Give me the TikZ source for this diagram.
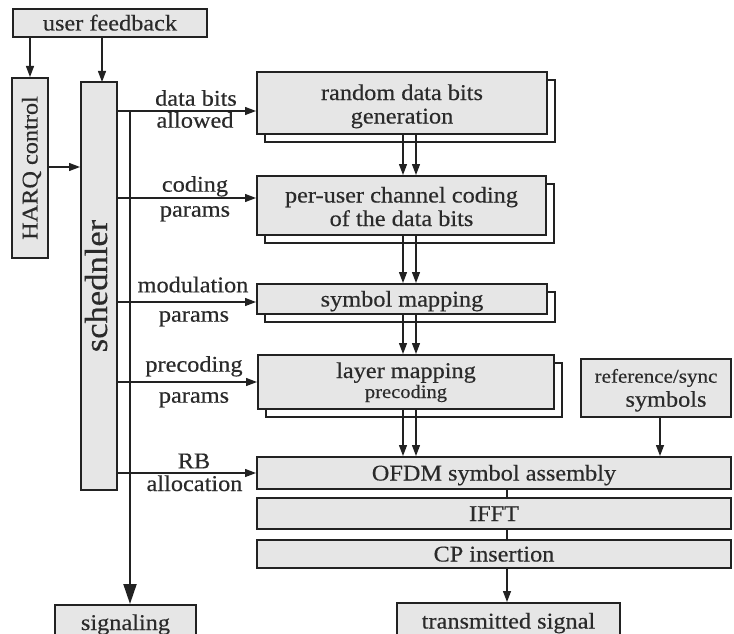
\documentclass[tikz,border=0pt]{standalone}
\usepackage{fontspec}
\setmainfont{Liberation Serif}[FakeStretch=1.08,FakeBold=0.4]
\usetikzlibrary{arrows.meta,shadows}
\definecolor{boxfill}{HTML}{E6E6E6}
\definecolor{ln}{HTML}{222222}
\definecolor{txt}{HTML}{2A2A2A}
\newcommand\fz[2]{\fontsize{#1}{#2}\selectfont}
\tikzset{
 box/.style={draw=ln, line width=2pt, fill=boxfill, text=txt, inner sep=0pt, font=\fz{22.5}{23.5}, text height=15pt, text depth=0pt},
 twoline/.style={text height=15pt, text depth=21pt},
 sbox/.style={box, general shadow={shadow xshift=8pt, shadow yshift=-8pt, fill=white, draw=ln, line width=2pt}},
 arr/.style={draw=ln, line width=1.3pt, -{Triangle[length=11pt,width=8pt]}},
 bigarr/.style={draw=ln, line width=2pt, -{Triangle[length=20pt,width=13pt]}},
 link/.style={draw=ln, line width=1.3pt},
 lab/.style={text=txt, font=\fz{22.5}{23.5}, anchor=base, inner sep=0pt},
}
\begin{document}
\begin{tikzpicture}[x=1pt,y=-1pt]
\fill[white] (0,0) rectangle (734,634);
\useasboundingbox (0,0) rectangle (734,634);

% left column
\node[box, minimum width=194pt, minimum height=28pt] (userfb) at (110,23) {user feedback};
\node[box, minimum width=180pt, minimum height=36pt, rotate=90] (harq) at (30,168) {HARQ control};
\node[box, minimum width=408pt, minimum height=36pt, rotate=90, font=\fz{32}{33}, text height=16pt] (sched) at (99,286) {schednler};
\coordinate (schedin) at (102,82);
\node[box, minimum width=141pt, minimum height=35pt] (signaling) at (125.5,622.5) {signaling};

% processing chain
\node[sbox, twoline, minimum width=290pt, minimum height=62pt] (rdb) at (402,103)
  {\begin{tabular}[t]{@{}c@{}}random data bits\\generation\end{tabular}};
\node[sbox, twoline, minimum width=289pt, minimum height=59pt] (coding) at (401.5,205.5)
  {\begin{tabular}[t]{@{}c@{}}per-user channel coding\\of the data bits\end{tabular}};
\node[sbox, minimum width=290pt, minimum height=30pt] (symmap) at (402,299) {symbol mapping};
\node[sbox, twoline, text depth=23pt, minimum width=296pt, minimum height=54pt] (layer) at (406,382)
  {\begin{tabular}[t]{@{}c@{}}layer mapping\\[-3.5pt]{\fz{19}{20}precoding}\end{tabular}};
\node[box, text height=15pt, text depth=25.6pt, font=\fz{19.5}{24}, minimum width=150pt, minimum height=58pt] (refsync) at (656,388)
  {\begin{tabular}[t]{@{}c@{}}reference/sync\\\hspace*{20pt}{\fz{22.5}{24}symbols}\end{tabular}};
\node[box, minimum width=474pt, minimum height=32pt] (ofdm) at (494,473) {OFDM symbol assembly};
\node[box, minimum width=474pt, minimum height=31pt] (ifft) at (494,513.5) {IFFT};
\node[box, minimum width=474pt, minimum height=28pt] (cp) at (494,554) {CP insertion};
\node[box, minimum width=223pt, minimum height=36pt] (tx) at (508.5,621) {transmitted signal};

% feedback arrows
\draw[arr] (userfb.south -| harq.east) -- (harq.east);
\draw[arr] (userfb.south -| schedin) -- (schedin);
\draw[arr] (harq.south |- 0,167) -- (sched.north |- 0,167);

% scheduler outputs
\draw[arr] (sched.south |- 0,111) -- (rdb.west |- 0,111);
\draw[arr] (sched.south |- 0,198) -- (coding.west |- 0,198);
\draw[arr] (sched.south |- 0,302) -- (symmap.west |- 0,302);
\draw[arr] (sched.south |- 0,382) -- (layer.west |- 0,382);
\draw[arr] (sched.south |- 0,473) -- (ofdm.west |- 0,473);
\coordinate (branch) at (130,111);
\draw[bigarr] (branch) -- (branch |- signaling.north);

\node[lab] (l1a) at (196,105.7) {data bits};
\node[lab] (l1b) at (195,127.7) {allowed};
\node[lab] (l2a) at (195,191.7) {coding};
\node[lab] (l2b) at (195,216.7) {params};
\node[lab] (l3a) at (193,292.3) {modulation};
\node[lab] (l3b) at (194,321.7) {params};
\node[lab] (l4a) at (194,371.7) {precoding};
\node[lab] (l4b) at (194,402.7) {params};
\node[lab] (l5a) at (194,468.3) {RB};
\node[lab] (l5b) at (194.5,491) {allocation};

% chain arrows
\foreach \xx in {403,416}{
  \draw[arr] (rdb.south -| \xx,0) -- (coding.north -| \xx,0);
  \draw[arr] (coding.south -| \xx,0) -- (symmap.north -| \xx,0);
  \draw[arr] (symmap.south -| \xx,0) -- (layer.north -| \xx,0);
  \draw[arr] (layer.south -| \xx,0) -- (ofdm.north -| \xx,0);
}
\draw[arr] (refsync.south -| 660,0) -- (ofdm.north -| 660,0);
\draw[link] (ofdm.south -| 507,0) -- (ifft.north -| 507,0);
\draw[link] (ifft.south -| 507,0) -- (cp.north -| 507,0);
\draw[arr] (cp.south -| 507,0) -- (tx.north -| 507,0);
\end{tikzpicture}
\end{document}
